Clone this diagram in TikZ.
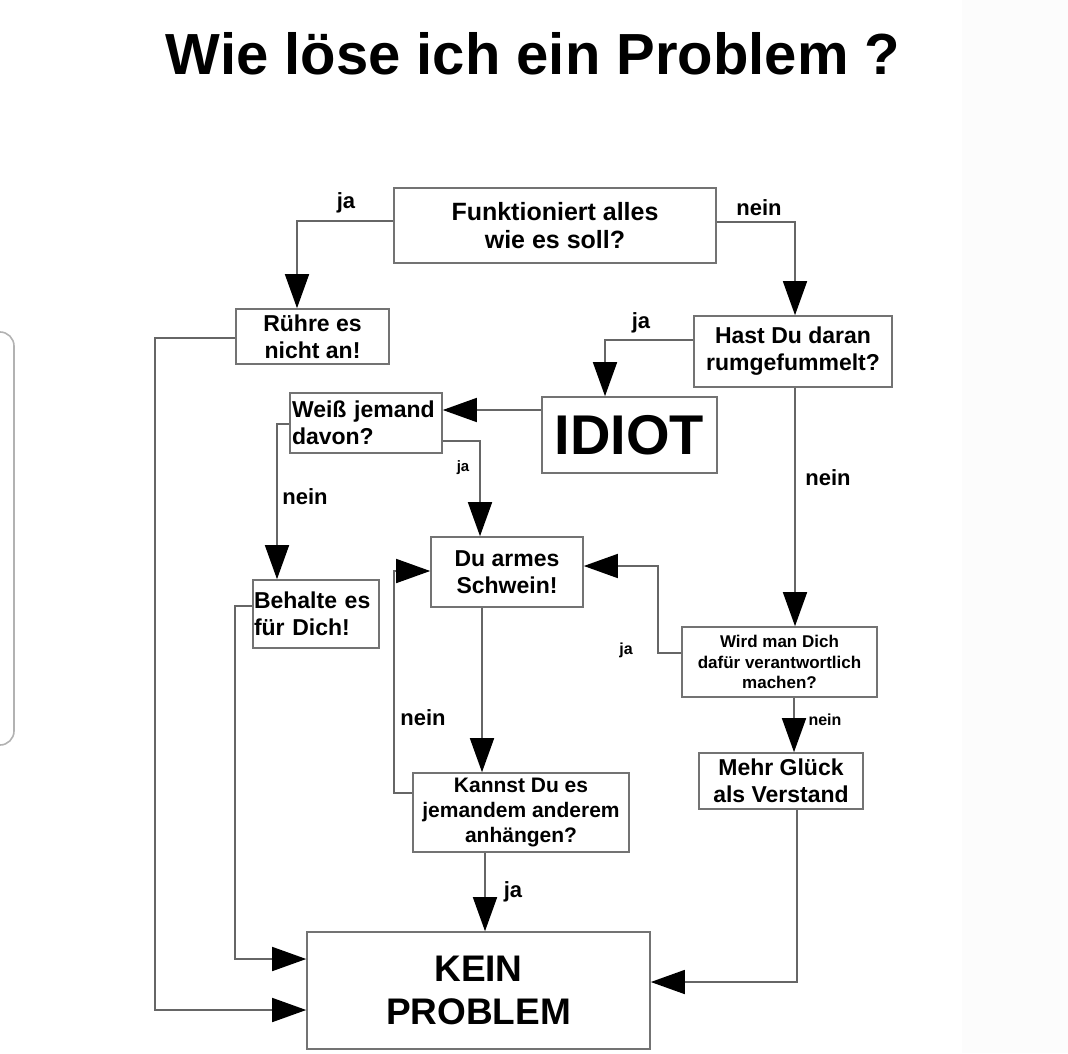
\documentclass[tikz,border=0pt]{standalone}
\usepackage{fontspec}
\setmainfont{Liberation Sans}
\usetikzlibrary{arrows.meta,positioning,calc,shapes}

\begin{document}
\begin{tikzpicture}[x=0.5pt,y=-0.5pt,
	box/.style={draw=black!55,line width=0.8pt,inner sep=0pt,align=center,font=\bfseries\fontsize{11.5}{13.5}\selectfont},
	flow/.style={draw=black!60,line width=0.8pt,-{Triangle[length=17pt,width=12pt,color=black]}},
	lbl/.style={font=\bfseries\fontsize{11}{13}\selectfont},
	small/.style={font=\bfseries\fontsize{7.5}{9}\selectfont}]
\useasboundingbox (0,0) rectangle (1068,1053);

		% screenshot edges
		\fill[black!1] (962,0) rectangle (1068,1053);
		\draw[black!30,line width=0.8pt,rounded corners=7pt] (-20,332) rectangle (14,745);

		% title
		\node[anchor=base,font=\bfseries\fontsize{29}{34}\selectfont] (title) at (533,75) {Wie löse ich ein Problem ?};

		% boxes
		\node[box,minimum width=161pt,minimum height=37.5pt,font=\bfseries\fontsize{12.5}{14}\selectfont] (funkt) at (555,225.5) {Funktioniert alles\\wie es soll?};
		\node[box,minimum width=76.5pt,minimum height=27.5pt] (ruehre) at (312.5,336.5) {Rühre es\\nicht an!};
		\node[box,minimum width=99pt,minimum height=35.5pt] (hast) at (793,351.5) {Hast Du daran\\rumgefummelt?};
		\node[box,minimum width=87.5pt,minimum height=38pt,font=\bfseries\fontsize{28}{32}\selectfont] (idiot) at (629.5,435) {IDIOT};
		\node[box,minimum width=76pt,minimum height=30pt,text width=74pt,align=left] (weiss) at (366,423) {Weiß jemand\\davon?};
		\node[box,minimum width=63pt,minimum height=34pt,text width=62pt,align=left] (behalte) at (316,614) {Behalte es\\für Dich!};
		\node[box,minimum width=76pt,minimum height=35pt] (duarmes) at (507,572) {Du armes\\Schwein!};
		\node[box,minimum width=97.5pt,minimum height=35pt,font=\bfseries\fontsize{8.5}{10.25}\selectfont] (wird) at (779.5,662) {Wird man Dich\\dafür verantwortlich\\machen?};
		\node[box,minimum width=82pt,minimum height=28pt] (mehr) at (781,781) {Mehr Glück\\als Verstand};
		\node[box,minimum width=108pt,minimum height=39.5pt,font=\bfseries\fontsize{10.5}{12.5}\selectfont] (kannst) at (521,812.5) {Kannst Du es\\jemandem anderem\\anhängen?};
		\node[box,minimum width=171.5pt,minimum height=58.5pt,font=\bfseries\fontsize{18.5}{21.5}\selectfont] (kein) at (478.5,990.5) {KEIN\\PROBLEM};

		% funktioniert: ja / nein
		\coordinate (jaFunkt) at (297,221);
		\draw[flow] (funkt.west |- jaFunkt) -- (jaFunkt) -- (ruehre.north -| jaFunkt);
		\node[lbl] (jaFunktLbl) at (346,203) {ja};
		\coordinate (neinFunkt) at (795,222);
		\draw[flow] (funkt.east |- neinFunkt) -- (neinFunkt) -- (hast.north -| neinFunkt);
		\node[lbl] (neinFunktLbl) at (759,208) {nein};

		% rumgefummelt: ja / nein
		\coordinate (jaHast) at (605,340);
		\draw[flow] (hast.west |- jaHast) -- (jaHast) -- (idiot.north -| jaHast);
		\node[lbl] (jaHastLbl) at (641,323) {ja};
		\draw[flow] (hast.south -| neinFunkt) -- (wird.north -| neinFunkt);
		\node[lbl] (neinHastLbl) at (828,478) {nein};

		% idiot -> weiss jemand
		\coordinate (idiotOut) at (480,410);
		\draw[flow] (idiot.west |- idiotOut) -- (weiss.east |- idiotOut);

		% weiss jemand: nein / ja
		\coordinate (neinWeiss) at (277,424);
		\draw[flow] (weiss.west |- neinWeiss) -- (neinWeiss) -- (behalte.north -| neinWeiss);
		\node[lbl] (neinWeissLbl) at (305,497) {nein};
		\coordinate (jaWeiss) at (480,441);
		\draw[flow] (weiss.east |- jaWeiss) -- (jaWeiss) -- (duarmes.north -| jaWeiss);
		\node[small] (jaWeissLbl) at (463,468) {ja};

		% verantwortlich: ja / nein
		\coordinate (jaWird) at (658,653);
		\coordinate (jaWirdUp) at (658,566);
		\draw[flow] (wird.west |- jaWird) -- (jaWird) -- (jaWirdUp) -- (duarmes.east |- jaWirdUp);
		\node[small,font=\bfseries\fontsize{8}{9}\selectfont] (jaWirdLbl) at (626,650) {ja};
		\coordinate (neinWird) at (794,720);
		\draw[flow] (wird.south -| neinWird) -- (mehr.north -| neinWird);
		\node[small,font=\bfseries\fontsize{8}{9}\selectfont] (neinWirdLbl) at (825,720) {nein};

		% armes schwein -> anhaengen
		\coordinate (schweinOut) at (482,690);
		\draw[flow] (duarmes.south -| schweinOut) -- (kannst.north -| schweinOut);

		% anhaengen: nein / ja
		\coordinate (neinKannst) at (394,793);
		\coordinate (neinKannstUp) at (394,571);
		\draw[flow] (kannst.west |- neinKannst) -- (neinKannst) -- (neinKannstUp) -- (duarmes.west |- neinKannstUp);
		\node[lbl] (neinKannstLbl) at (423,718) {nein};
		\coordinate (jaKannst) at (485,890);
		\draw[flow] (kannst.south -| jaKannst) -- (kein.north -| jaKannst);
		\node[lbl] (jaKannstLbl) at (513,892) {ja};

		% into kein problem
		\coordinate (ruehreDown) at (155,338);
		\coordinate (ruehreIn) at (155,1010);
		\draw[flow] (ruehre.west |- ruehreDown) -- (ruehreDown) -- (ruehreIn) -- (kein.west |- ruehreIn);
		\coordinate (behalteDown) at (235,606);
		\coordinate (behalteIn) at (235,959);
		\draw[flow] (behalte.west |- behalteDown) -- (behalteDown) -- (behalteIn) -- (kein.west |- behalteIn);
		\coordinate (mehrIn) at (797,982);
		\draw[flow] (mehr.south -| mehrIn) -- (mehrIn) -- (kein.east |- mehrIn);
\end{tikzpicture}
\end{document}
